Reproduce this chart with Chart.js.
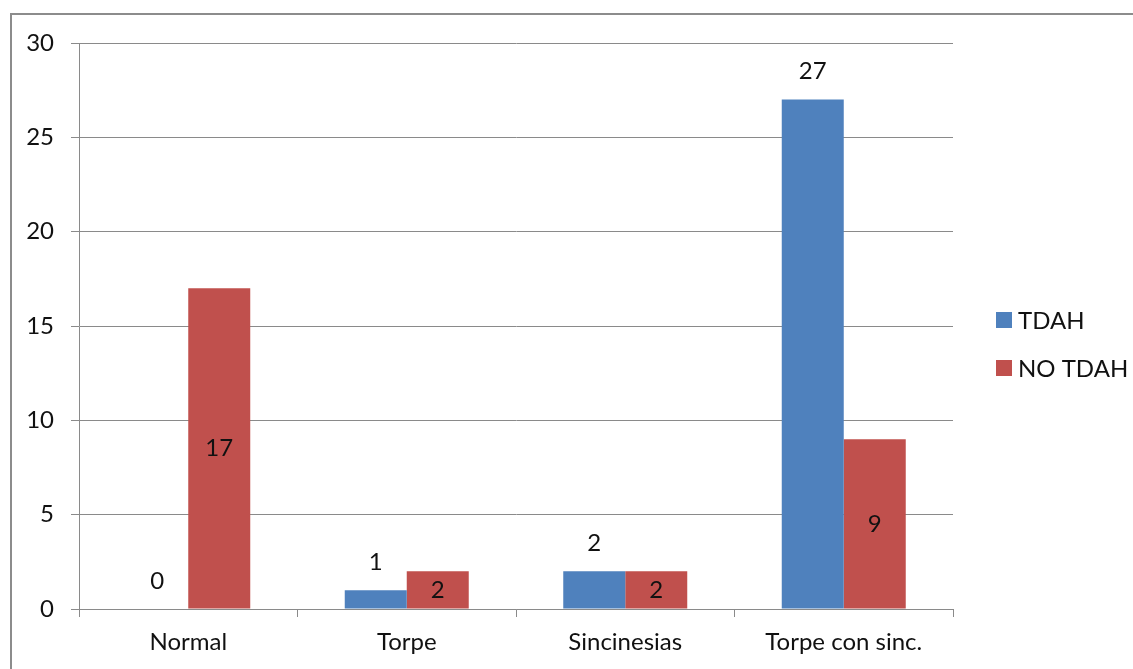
<!DOCTYPE html>
<html lang="es">
<head>
<meta charset="utf-8">
<title>TDAH / NO TDAH</title>
<script src="https://cdn.jsdelivr.net/npm/chart.js@4/dist/chart.umd.min.js"></script>
<style>
  html, body { margin: 0; padding: 0; background: #ffffff; overflow: hidden; }
  #wrap { position: relative; width: 1133px; height: 669px; }
  #frame {
    position: absolute; left: 10px; top: 13px; width: 1400px; height: 900px;
    border-left: 2px solid #8c8c8c; border-top: 2px solid #8c8c8c;
  }
  #chart { position: absolute; left: 0; top: 0; }
</style>
</head>
<body>
<div id="wrap">
  <div id="frame"></div>
  <canvas id="chart" width="1133" height="669"></canvas>
</div>
<script>
// Categories and series
const categories = ['Normal', 'Torpe', 'Sincinesias', 'Torpe con sinc.'];
const tdah = [0, 1, 2, 27];
const noTdah = [17, 2, 2, 9];
const seriesNames = ['TDAH', 'NO TDAH'];
const yTicks = [0, 5, 10, 15, 20, 25, 30];

const FONT = "Lato, 'Liberation Sans', sans-serif";
const TEXT = '#111111';
const GRID = '#8a8a8a';

// Value labels: first series above the bar, second series centred inside it
const valueLabels = {
  id: 'valueLabels',
  afterDatasetsDraw(chart) {
    const ctx = chart.ctx;
    ctx.save();
    ctx.font = '24px ' + FONT;
    ctx.fillStyle = TEXT;
    ctx.textAlign = 'center';
    ctx.textBaseline = 'middle';
    chart.data.datasets.forEach((ds, di) => {
      const meta = chart.getDatasetMeta(di);
      meta.data.forEach((bar, i) => {
        const v = ds.data[i];
        const y = di === 0 ? bar.y - 28 : (bar.y + bar.base) / 2;
        ctx.fillText(String(v), bar.x, y);
      });
    });
    ctx.restore();
  }
};

// Legend column to the right of the plot
const sideLegend = {
  id: 'sideLegend',
  afterDraw(chart) {
    const ctx = chart.ctx;
    const area = chart.chartArea;
    ctx.save();
    ctx.font = '24px ' + FONT;
    ctx.textAlign = 'left';
    ctx.textBaseline = 'middle';
    chart.data.datasets.forEach((ds, i) => {
      const cy = area.top + 277 + i * 48;
      const x = area.right + 43;
      ctx.fillStyle = ds.backgroundColor;
      ctx.fillRect(x, cy - 8, 16, 16);
      ctx.fillStyle = TEXT;
      ctx.fillText(ds.label, x + 22, cy + 1);
    });
    ctx.restore();
  }
};

new Chart(document.getElementById('chart'), {
  type: 'bar',
  data: {
    labels: categories,
    datasets: [
      { label: seriesNames[0], data: tdah, backgroundColor: '#4f81bd' },
      { label: seriesNames[1], data: noTdah, backgroundColor: '#c0504d' }
    ]
  },
  options: {
    responsive: false,
    devicePixelRatio: 1,
    animation: false,
    layout: { padding: { top: 43, right: 180, bottom: 0, left: 0 } },
    datasets: { bar: { categoryPercentage: 0.5675, barPercentage: 1.0 } },
    plugins: {
      legend: { display: false },
      tooltip: { enabled: false },
      title: { display: false }
    },
    scales: {
      x: {
        grid: {
          offset: true, drawOnChartArea: false, tickLength: 8,
          color: GRID, lineWidth: 1
        },
        border: { display: true, color: GRID, width: 1 },
        ticks: { font: { family: FONT, size: 24 }, color: TEXT, padding: 11, maxRotation: 0 },
        afterFit(scale) { scale.height = 60; }
      },
      y: {
        min: 0, max: 30,
        afterBuildTicks(scale) { scale.ticks = yTicks.map(v => ({ value: v })); },
        grid: { color: GRID, lineWidth: 1, tickLength: 8 },
        border: { display: true, color: GRID, width: 1 },
        ticks: { font: { family: FONT, size: 24 }, color: TEXT, padding: 17 },
        afterFit(scale) { scale.width = 79; }
      }
    }
  },
  plugins: [valueLabels, sideLegend]
});
</script>
</body>
</html>
